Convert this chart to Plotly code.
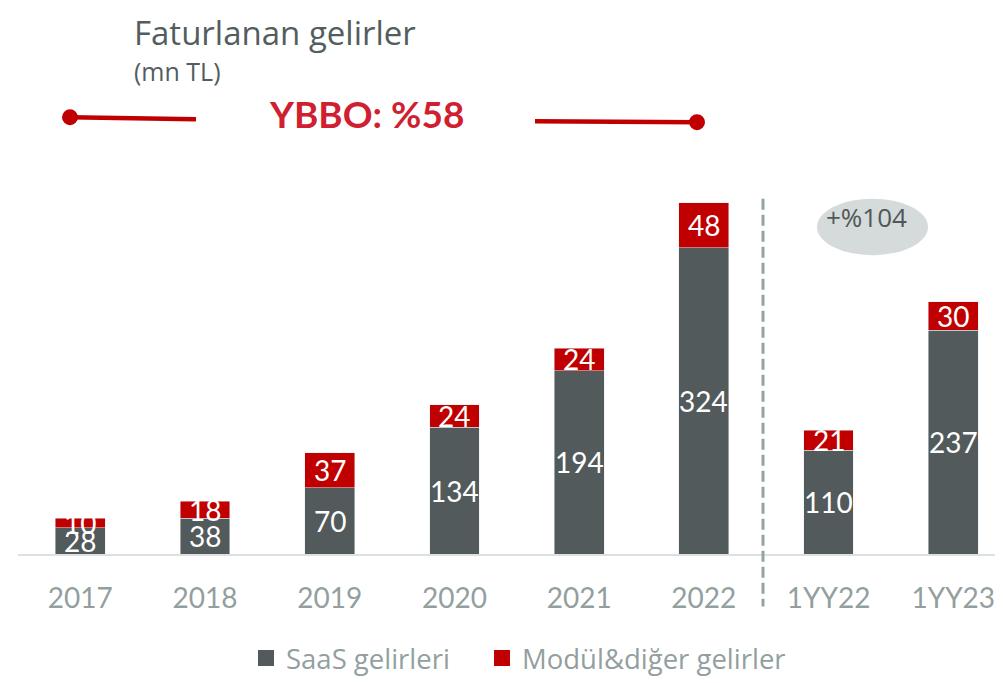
import plotly.graph_objects as go

categories = ["2017", "2018", "2019", "2020", "2021", "2022", "1YY22", "1YY23"]
saas = [28, 38, 70, 134, 194, 324, 110, 237]
modul = [10, 18, 37, 24, 24, 48, 21, 30]
series_names = ["SaaS gelirleri", "Modül&diğer gelirler"]
title_text = "Faturlanan gelirler"
subtitle_text = "(mn TL)"
cagr_text = "YBBO: %58"
growth_text = "+%104"

GRAY = "#525a5b"
RED = "#c00000"
TICK = "#939f9f"
FONT = "Lato"
SFONT = "Open Sans"

OFF = 8  # browser body margin
W, H = 1003 - OFF, 683 - OFF
ML, MR, MT, MB = 18 - OFF, 0, 150 - OFF, 126
PW, PH = W - ML - MR, H - MT - MB


def px(x):
    return (x - OFF - ML) / PW


def py(y):
    return (683 - MB - y) / PH


fig = go.Figure()
fig.add_trace(go.Bar(x=categories, y=saas, marker_color=GRAY, showlegend=False,
                     hoverinfo="skip"))
fig.add_trace(go.Bar(x=categories, y=modul, marker_color=RED, showlegend=False,
                     hoverinfo="skip"))
for name, col, lg in zip(series_names, [GRAY, RED], ["legend", "legend2"]):
    fig.add_trace(go.Scatter(x=[None], y=[None], mode="markers", name=name,
                             legend=lg,
                             marker=dict(symbol="square", size=18, color=col)))

annotations = []
for i, (s, m) in enumerate(zip(saas, modul)):
    annotations.append(dict(x=i, y=s / 2, text=str(s), showarrow=False,
                            font=dict(family=FONT, size=28, color="white"),
                            xref="x", yref="y"))
    annotations.append(dict(x=i, y=s + m / 2, text=str(m), showarrow=False,
                            font=dict(family=FONT, size=28, color="white"),
                            xref="x", yref="y"))

annotations += [
    dict(x=px(132), y=py(8), text=title_text, showarrow=False, xanchor="left",
         yanchor="top", xref="paper", yref="paper", height=42,
         font=dict(family=SFONT, size=33, color="#535d5e")),
    dict(x=px(132), y=py(70), text=subtitle_text, showarrow=False, xanchor="left",
         yanchor="middle", xref="paper", yref="paper",
         font=dict(family=SFONT, size=25, color="#535d5e")),
    dict(x=px(366), y=py(113), text="<b>" + cagr_text + "</b>", showarrow=False,
         xanchor="center", yanchor="middle", xref="paper", yref="paper",
         font=dict(family=FONT, size=37, color="#d01f30")),
    dict(x=px(866), y=py(218), text=growth_text, showarrow=False,
         xanchor="center", yanchor="middle", xref="paper", yref="paper",
         font=dict(family=SFONT, size=26, color="#4f5859")),
]

shapes = [
    dict(type="line", xref="paper", yref="paper", x0=px(70), y0=py(117),
         x1=px(196), y1=py(119), line=dict(color=RED, width=4.5)),
    dict(type="circle", xref="paper", yref="paper", x0=px(62), y0=py(109),
         x1=px(78), y1=py(125), fillcolor=RED, line=dict(width=0)),
    dict(type="line", xref="paper", yref="paper", x0=px(535), y0=py(121),
         x1=px(697), y1=py(122), line=dict(color=RED, width=4.5)),
    dict(type="circle", xref="paper", yref="paper", x0=px(689), y0=py(114),
         x1=px(705), y1=py(130), fillcolor=RED, line=dict(width=0)),
    dict(type="circle", xref="paper", yref="paper", x0=px(817), y0=py(199),
         x1=px(928), y1=py(256), fillcolor="#d5dadb", line=dict(width=0),
         layer="below"),
    dict(type="line", xref="paper", yref="paper", x0=px(763), y0=py(199),
         x1=px(763), y1=py(610), line=dict(color="#96a3a3", width=3,
                                           dash="11px,5px")),
]

legend_common = dict(orientation="h", yanchor="middle", xanchor="left",
                     font=dict(family=SFONT, size=27.5, color=TICK),
                     itemwidth=30, bgcolor="rgba(0,0,0,0)")

fig.update_layout(
    width=W, height=H,
    margin=dict(l=ML, r=MR, t=MT, b=MB),
    barmode="stack", bargap=0.6,
    plot_bgcolor="white", paper_bgcolor="white",
    font=dict(family=FONT),
    annotations=annotations, shapes=shapes,
    legend=dict(x=px(246), y=py(662), **legend_common),
    legend2=dict(x=px(482), y=py(662), **legend_common),
    xaxis=dict(type="category", range=[-0.5, -0.5 + PW / 124.7],
               showline=True, linecolor="#dbe1e1", linewidth=2,
               ticks="outside", ticklen=18, tickcolor="rgba(0,0,0,0)",
               tickfont=dict(family=FONT, size=28, color=TICK),
               showgrid=False, fixedrange=True),
    yaxis=dict(visible=False, range=[0, PH / 0.9516], showgrid=False,
               fixedrange=True),
)

fig.write_html("out.html")
